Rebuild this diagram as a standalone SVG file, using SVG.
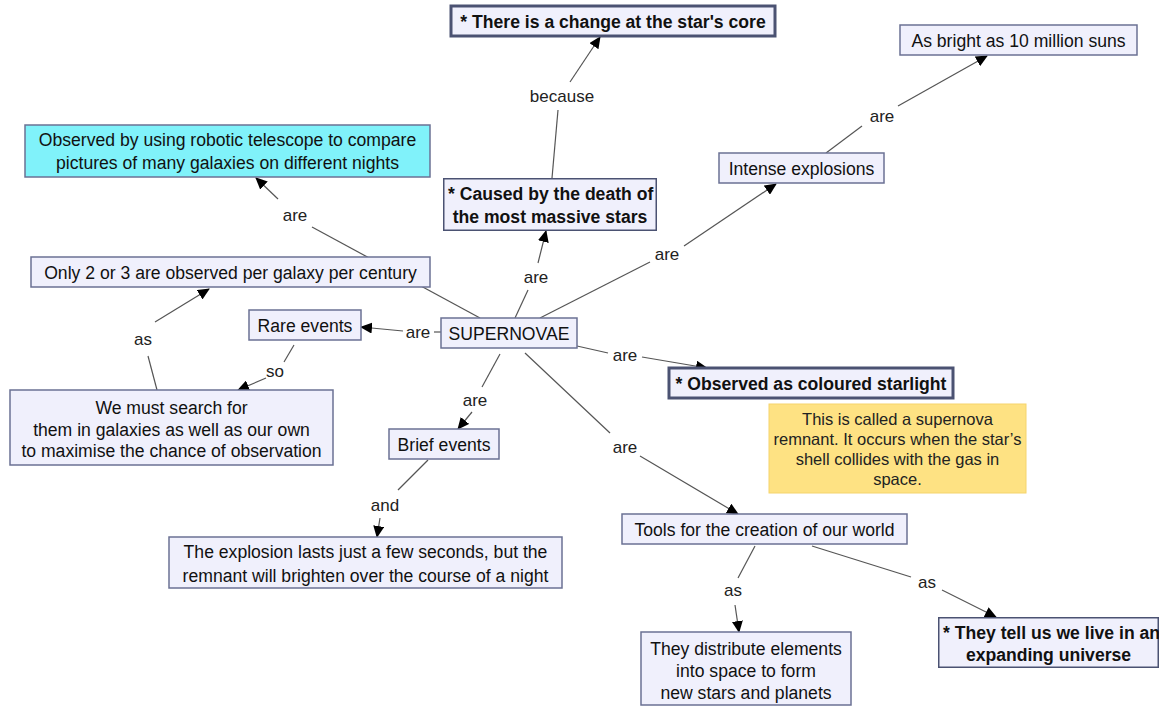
<svg xmlns="http://www.w3.org/2000/svg" width="1167" height="710" viewBox="0 0 1167 710">
<defs>
<marker id="ah" markerUnits="userSpaceOnUse" markerWidth="12" markerHeight="11" refX="11" refY="5.5" orient="auto" viewBox="0 0 12 11">
<path d="M0,0 L12,5.5 L0,11 z" fill="#000"/>
</marker>
<clipPath id="clipCaused"><rect x="443" y="178" width="214" height="53"/></clipPath>
<clipPath id="clipTell"><rect x="938" y="617" width="221" height="51"/></clipPath>
</defs>
<style>
.box{fill:#f0f0fc;stroke:#6b7194;stroke-width:1.5}
.bbox{fill:#f0f0fc;stroke:#4b5272;stroke-width:3}
.t{font-family:"Liberation Sans",Arial,sans-serif;font-size:17.6px;fill:#111;text-anchor:middle}
.b{font-weight:bold}
.lbl{font-family:"Liberation Sans",Arial,sans-serif;font-size:17px;fill:#222;text-anchor:middle}
.n{font-family:"Liberation Sans",Arial,sans-serif;font-size:16.5px;fill:#222;text-anchor:middle}
.c{fill:none;stroke:#555;stroke-width:1.2}
.a{marker-end:url(#ah)}
</style>
<rect width="1167" height="710" fill="#fff"/>
<g id="connectors">
<path class="c" d="M552,178 L558,110"/><path class="c a" d="M570,82 L600,37"/>
<path class="c" d="M515,318 L528,290"/><path class="c a" d="M538,263 L546,231"/>
<path class="c" d="M540,318 L650,262"/><path class="c a" d="M684,246 L776,184"/>
<path class="c" d="M826,153 L862,126"/><path class="c a" d="M898,106 L987,56"/>
<path class="c" d="M480,318 L312,227"/><path class="c a" d="M278,199 L256,178"/>
<path class="c" d="M157,390 L148,356"/><path class="c a" d="M155,322 L209,289"/>
<path class="c" d="M441,332 L434,332"/><path class="c a" d="M403,331 L361,327"/>
<path class="c" d="M294,345 L284,362"/><path class="c a" d="M266,378 L238,390"/>
<path class="c" d="M577,346 L608,353"/><path class="c a" d="M642,357 L707,368"/>
<path class="c" d="M500,354 L482,387"/><path class="c a" d="M472,412 L458,429"/>
<path class="c" d="M428,460 L398,490"/><path class="c a" d="M380,518 L377,537"/>
<path class="c" d="M525,353 L610,433"/><path class="c a" d="M640,456 L738,514"/>
<path class="c" d="M755,546 L738,578"/><path class="c a" d="M735,605 L739,632"/>
<path class="c" d="M812,546 L911,577"/><path class="c a" d="M942,590 L996,617"/>
<text class="lbl" x="562" y="102">because</text>
<text class="lbl" x="536" y="283">are</text>
<text class="lbl" x="667" y="260">are</text>
<text class="lbl" x="882" y="122">are</text>
<text class="lbl" x="295" y="221">are</text>
<text class="lbl" x="143" y="345">as</text>
<text class="lbl" x="418" y="338">are</text>
<text class="lbl" x="275" y="377">so</text>
<text class="lbl" x="625" y="361">are</text>
<text class="lbl" x="475" y="406">are</text>
<text class="lbl" x="385" y="511">and</text>
<text class="lbl" x="625" y="453">are</text>
<text class="lbl" x="733" y="596">as</text>
<text class="lbl" x="927" y="588">as</text>
</g>
<g id="n-core"><rect class="bbox" x="451" y="6" width="324" height="30"/><text class="t b" x="613" y="27.5">* There is a change at the star's core</text></g>
<g id="n-bright"><rect class="box" x="900" y="25" width="237" height="30"/><text class="t" x="1018.5" y="46.5">As bright as 10 million suns</text></g>
<g id="n-robotic"><rect x="25" y="125" width="405" height="52" fill="#80f2fa" stroke="#6b7194" stroke-width="1.5"/><text class="t" x="227.5" y="145.5">Observed by using robotic telescope to compare</text><text class="t" x="227.5" y="168.5">pictures of many galaxies on different nights</text></g>
<g id="n-caused" clip-path="url(#clipCaused)"><rect class="bbox" x="443" y="178" width="214" height="53"/><text class="t b" x="448" y="199.5" style="text-anchor:start">* Caused by the death of</text><text class="t b" x="550" y="222.5">the most massive stars</text></g>
<g id="n-intense"><rect class="box" x="719" y="153" width="165" height="30"/><text class="t" x="801.5" y="174.5">Intense explosions</text></g>
<g id="n-only"><rect class="box" x="31" y="257" width="399" height="30"/><text class="t" x="230.5" y="278.5">Only 2 or 3 are observed per galaxy per century</text></g>
<g id="n-rare"><rect class="box" x="249" y="310" width="112" height="30"/><text class="t" x="305" y="331.5">Rare events</text></g>
<g id="n-supernovae"><rect class="box" x="441" y="318" width="136" height="30"/><text class="t" x="509" y="339.5">SUPERNOVAE</text></g>
<g id="n-coloured"><rect class="bbox" x="669" y="368" width="284" height="30"/><text class="t b" x="811" y="389.5">* Observed as coloured starlight</text></g>
<g id="n-note"><rect x="769" y="404" width="257" height="89" fill="#fee283" stroke="#f5d46c" stroke-width="1"/><text class="n" x="897.5" y="425">This is called a supernova</text><text class="n" x="897.5" y="445">remnant. It occurs when the star’s</text><text class="n" x="897.5" y="465">shell collides with the gas in</text><text class="n" x="897.5" y="485">space.</text></g>
<g id="n-search"><rect class="box" x="10" y="390" width="323" height="75"/><text class="t" x="171.5" y="413.5">We must search for</text><text class="t" x="171.5" y="435.5">them in galaxies as well as our own</text><text class="t" x="171.5" y="456.5">to maximise the chance of observation</text></g>
<g id="n-brief"><rect class="box" x="389" y="429" width="110" height="30"/><text class="t" x="444" y="450.5">Brief events</text></g>
<g id="n-explosion"><rect class="box" x="169" y="537" width="393" height="51"/><text class="t" x="365.5" y="557.5">The explosion lasts just a few seconds, but the</text><text class="t" x="365.5" y="581.5">remnant will brighten over the course of a night</text></g>
<g id="n-tools"><rect class="box" x="622" y="514" width="285" height="30"/><text class="t" x="764.5" y="535.5">Tools for the creation of our world</text></g>
<g id="n-distribute"><rect class="box" x="641" y="632" width="210" height="73"/><text class="t" x="746" y="654.5">They distribute elements</text><text class="t" x="746" y="676.5">into space to form</text><text class="t" x="746" y="698.5">new stars and planets</text></g>
<g id="n-tell" clip-path="url(#clipTell)"><rect class="bbox" x="938" y="617" width="221" height="51"/><text class="t b" x="943" y="638.5" style="text-anchor:start">* They tell us we live in an</text><text class="t b" x="1048.5" y="660.5">expanding universe</text></g>
</svg>
